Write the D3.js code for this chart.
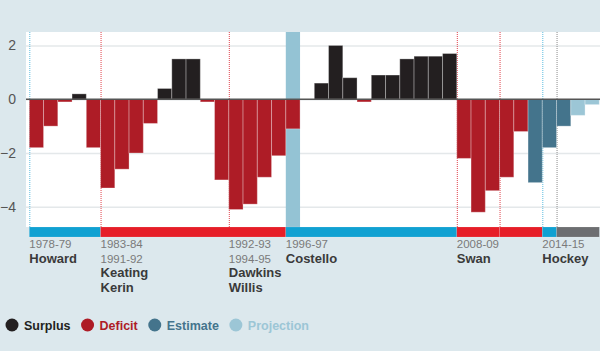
<!DOCTYPE html>
<html>
<head>
<meta charset="utf-8">
<script src="https://cdn.jsdelivr.net/npm/d3@7"></script>
<style>
  body { margin: 0; background: #dce8ed; }
  svg { display: block; font-family: Arial, "Liberation Sans", sans-serif; }
</style>
</head>
<body>
<div id="chart"></div>
<script>
// Budget balance, % of GDP
const years = ["1978-79", "1979-80", "1980-81", "1981-82", "1982-83", "1983-84", "1984-85", "1985-86",
  "1986-87", "1987-88", "1988-89", "1989-90", "1990-91", "1991-92", "1992-93", "1993-94", "1994-95",
  "1995-96", "1996-97", "1997-98", "1998-99", "1999-00", "2000-01", "2001-02", "2002-03", "2003-04",
  "2004-05", "2005-06", "2006-07", "2007-08", "2008-09", "2009-10", "2010-11", "2011-12", "2012-13",
  "2013-14", "2014-15", "2015-16", "2016-17", "2017-18"];
const balance = [-1.8, -1.0, -0.1, 0.2, -1.8, -3.3, -2.6, -2.0, -0.9, 0.4, 1.5, 1.5, -0.1, -3.0, -4.1,
  -3.9, -2.9, -2.1, -1.1, 0, 0.6, 2.0, 0.8, -0.1, 0.9, 0.9, 1.5, 1.6, 1.6, 1.7, -2.2, -4.2, -3.4, -2.9,
  -1.2, -3.1, -1.8, -1.0, -0.6, -0.2];
const estimateYears = ["2013-14", "2014-15", "2015-16"];
const projectionYears = ["2016-17", "2017-18"];
const yTicks = [2, 0, -2, -4];

// treasurers: start year, last year, party colour key
const terms = [
  { start: "1978-79", end: "1982-83", party: "lib" },
  { start: "1983-84", end: "1995-96", party: "alp" },
  { start: "1996-97", end: "2007-08", party: "lib" },
  { start: "2008-09", end: "2010-11", party: "alp" },
  { start: "2011-12", end: "2013-14", party: "alp" },
  { start: "2014-15", end: "2014-15", party: "lib" },
  { start: "2015-16", end: "2017-18", party: "none" }
];
const labels = [
  { at: "1978-79", years: ["1978-79"], names: ["Howard"] },
  { at: "1983-84", years: ["1983-84", "1991-92"], names: ["Keating", "Kerin"] },
  { at: "1992-93", years: ["1992-93", "1994-95"], names: ["Dawkins", "Willis"] },
  { at: "1996-97", years: ["1996-97"], names: ["Costello"] },
  { at: "2008-09", years: ["2008-09"], names: ["Swan"] },
  { at: "2014-15", years: ["2014-15"], names: ["Hockey"] }
];
const dividers = [
  { at: "1978-79", party: "lib" }, { at: "1983-84", party: "alp" }, { at: "1992-93", party: "alp" },
  { at: "2008-09", party: "alp" }, { at: "2011-12", party: "alp" }, { at: "2014-15", party: "lib" },
  { at: "2015-16", party: "none" }
];
const highlightYear = "1996-97";

const colors = { surplus: "#231f20", deficit: "#ae1c26", estimate: "#44748c", projection: "#9cc6d6" };
const partyColors = { lib: "#10a1d2", alp: "#e61e28", none: "#6d6e71" };
const lineColors = { lib: "#5cbde0", alp: "#e0404a", none: "#8a8a8a" };

const width = 600, height = 351;
const plot = { left: 26, right: 600, top: 32, bottom: 227 };

const svg = d3.select("#chart").append("svg")
  .attr("width", width)
  .attr("height", height);

const x = d3.scaleBand()
  .domain(years)
  .range([29.3, 599.3])
  .padding(0);

const y = d3.scaleLinear()
  .domain([-4.75, 2.5])
  .range([plot.bottom, plot.top]);

// plot background
svg.append("rect")
  .attr("x", plot.left).attr("y", plot.top)
  .attr("width", plot.right - plot.left).attr("height", plot.bottom - plot.top)
  .attr("fill", "#fff");

// gridlines + tick labels
const yAxis = svg.append("g")
  .attr("transform", `translate(${plot.left},0)`)
  .call(d3.axisLeft(y).tickValues(yTicks).tickSize(-(plot.right - plot.left)).tickPadding(10).tickFormat(d3.format("d")));
yAxis.select(".domain").remove();
yAxis.selectAll("line").attr("stroke", "#e4e8ea").attr("stroke-width", 1.5);
yAxis.selectAll("text").attr("fill", "#555").style("font-size", "14px");

// highlighted column
svg.append("rect")
  .attr("x", x(highlightYear)).attr("y", plot.top)
  .attr("width", x.bandwidth()).attr("height", plot.bottom - plot.top)
  .attr("fill", "#94c3d4");

// treasurer change lines
svg.selectAll(".divider")
  .data(dividers)
  .enter().append("line")
  .attr("x1", d => x(d.at) + 0.5).attr("x2", d => x(d.at) + 0.5)
  .attr("y1", plot.top).attr("y2", plot.bottom)
  .attr("stroke", d => lineColors[d.party])
  .attr("stroke-width", 1)
  .attr("stroke-dasharray", "1,1");

// bars
function kind(yr, v) {
  if (estimateYears.includes(yr)) return "estimate";
  if (projectionYears.includes(yr)) return "projection";
  return v >= 0 ? "surplus" : "deficit";
}
const data = years.map((yr, i) => ({ year: yr, value: balance[i] }));

svg.selectAll(".bar")
  .data(data.filter(d => d.value !== 0))
  .enter().append("rect")
  .attr("x", d => x(d.year))
  .attr("y", d => y(Math.max(0, d.value)))
  .attr("width", x.bandwidth())
  .attr("height", d => Math.abs(y(d.value) - y(0)))
  .attr("fill", d => colors[kind(d.year, d.value)])
  .attr("stroke", "rgba(255,255,255,0.3)")
  .attr("stroke-width", 1);

// zero line
svg.append("line")
  .attr("x1", plot.left).attr("x2", plot.right)
  .attr("y1", y(0)).attr("y2", y(0))
  .attr("stroke", "#555").attr("stroke-width", 1.5);

// party strip
const stripTop = plot.bottom, stripH = 10;
svg.selectAll(".term")
  .data(terms)
  .enter().append("rect")
  .attr("x", d => x(d.start))
  .attr("y", stripTop)
  .attr("width", d => x(d.end) + x.bandwidth() - x(d.start))
  .attr("height", stripH)
  .attr("fill", d => partyColors[d.party])
  .attr("stroke", "rgba(255,255,255,0.25)")
  .attr("stroke-width", 0.5);

// treasurer labels
const lab = svg.selectAll(".lab")
  .data(labels)
  .enter().append("g")
  .attr("transform", d => `translate(${x(d.at)},0)`);

lab.each(function(d) {
  const g = d3.select(this);
  let base = 248;
  d.years.forEach(t => {
    g.append("text").attr("y", base).text(t)
      .attr("fill", "#7a7a7a").style("font-size", "11.5px");
    base += 14.5;
  });
  d.names.forEach(t => {
    g.append("text").attr("y", base).text(t)
      .attr("fill", "#3a3a3a").style("font-size", "13px").style("font-weight", "bold");
    base += 14.5;
  });
});

// legend
const legend = [
  { key: "surplus", label: "Surplus" },
  { key: "deficit", label: "Deficit" },
  { key: "estimate", label: "Estimate" },
  { key: "projection", label: "Projection" }
];
let lx = 12;
legend.forEach(l => {
  svg.append("circle").attr("cx", lx).attr("cy", 325).attr("r", 6.5).attr("fill", colors[l.key]);
  const t = svg.append("text")
    .attr("x", lx + 12).attr("y", 329.5)
    .text(l.label)
    .attr("fill", colors[l.key])
    .style("font-size", "12.5px").style("font-weight", "bold");
  lx = lx + 12 + t.node().getComputedTextLength() + 17;
});
</script>
</body>
</html>
